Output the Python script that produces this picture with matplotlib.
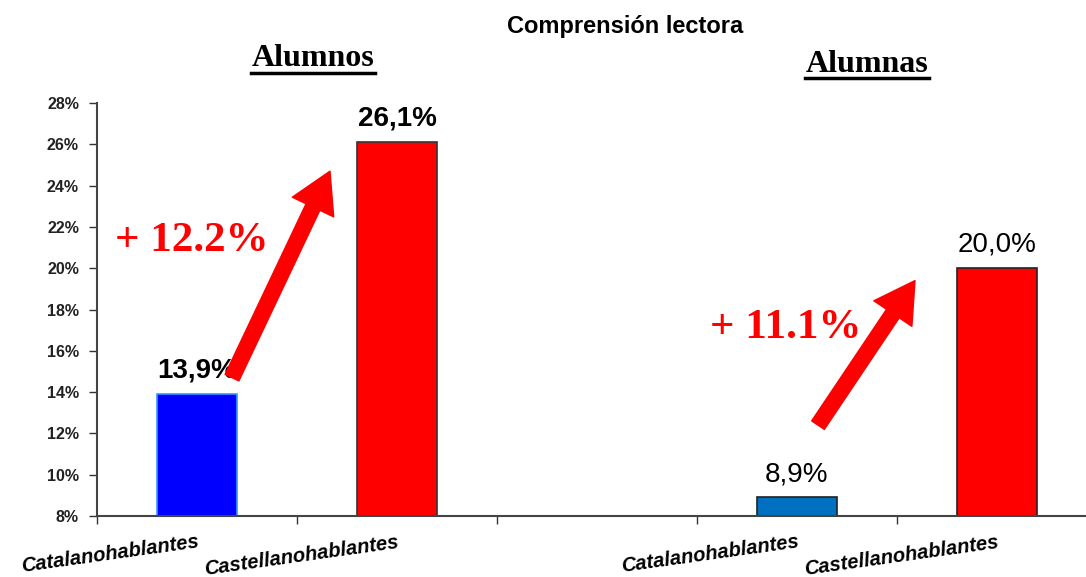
import numpy as np
import matplotlib.pyplot as plt

categories = ['Catalanohablantes', 'Castellanohablantes', '', 'Catalanohablantes', 'Castellanohablantes']
values = [13.9, 26.1, np.nan, 8.9, 20.0]
value_labels = ['13,9%', '26,1%', '', '8,9%', '20,0%']
yticks = [8, 10, 12, 14, 16, 18, 20, 22, 24, 26, 28]
groups = ['Alumnos', 'Alumnas']
diffs = ['+ 12.2%', '+ 11.1%']

colors = ['#0000ff', '#ff0000', 'none', '#0070c0', '#ff0000']
edges = ['#3399ff', '#333333', 'none', '#222222', '#222222']

fig = plt.figure(figsize=(10.86, 5.77), dpi=100)
ax = fig.add_axes([97 / 1086, 61 / 577, 1000 / 1086, 413 / 577])

x = np.arange(len(categories))
for i in range(len(categories)):
    if np.isnan(values[i]):
        continue
    ax.bar(x[i], values[i] - 8, bottom=8, width=0.4, color=colors[i],
           edgecolor=edges[i], linewidth=1.2)
    ax.text(x[i], values[i] + 0.5, value_labels[i], ha='center', va='bottom',
            fontsize=20, family='Liberation Sans',
            fontweight='bold' if i < 2 else 'normal')

ax.set_xlim(-0.5, 4.5)
ax.set_ylim(8, 28)
ax.set_yticks(yticks)
ax.set_yticklabels([f'{v}%' for v in yticks], fontsize=11.5, fontweight='bold',
                   family='Liberation Sans', color='#222222')
ax.tick_params(axis='y', length=6, width=1, color='#333333', pad=7)

ax.set_xticks(np.arange(-0.5, 4.5, 1.0), minor=True)
ax.tick_params(axis='x', which='minor', length=6, width=1, color='#333333')
ax.set_xticks(x)
ax.set_xticklabels(categories, rotation=8, ha='right', rotation_mode='anchor',
                   fontsize=14.5, fontweight='bold', fontstyle='italic',
                   family='Liberation Sans')
ax.tick_params(axis='x', which='major', length=0, pad=12)

for s in ['top', 'right']:
    ax.spines[s].set_visible(False)
for s in ['left', 'bottom']:
    ax.spines[s].set_color('#444444')
    ax.spines[s].set_linewidth(1.5)

# arrows and differences
astyle = 'simple,head_length=1.3,head_width=1.5,tail_width=0.5'
ax.annotate('', xy=(0.665, 24.7), xytext=(0.175, 14.7),
            arrowprops=dict(arrowstyle=astyle, color='#ff0000', mutation_scale=22,
                            shrinkA=0, shrinkB=0))
ax.annotate('', xy=(3.59, 19.4), xytext=(3.105, 12.4),
            arrowprops=dict(arrowstyle=astyle, color='#ff0000', mutation_scale=22,
                            shrinkA=0, shrinkB=0))
ax.text(-0.41, 21.3, diffs[0], color='#ff0000', fontsize=31, fontweight='bold',
        family='Liberation Serif', ha='left', va='center')
ax.text(2.565, 17.1, diffs[1], color='#ff0000', fontsize=31, fontweight='bold',
        family='Liberation Serif', ha='left', va='center')

fig.text(625 / 1086, 1 - 27 / 577, 'Comprensión lectora', ha='center', va='center',
         fontsize=17, fontweight='bold', family='Liberation Sans')

for gx, gy, name in [(313, 59, groups[0]), (867, 64, groups[1])]:
    fig.text(gx / 1086, 1 - gy / 577, name, ha='center', va='center',
             fontsize=23, fontweight='bold', family='Liberation Serif')
    fig.lines.append(plt.Line2D([(gx - 62) / 1086, (gx + 62) / 1086],
                                [1 - (gy + 14) / 577, 1 - (gy + 14) / 577],
                                transform=fig.transFigure, color='black', linewidth=2.5))

fig.savefig('out.png', dpi=100)
